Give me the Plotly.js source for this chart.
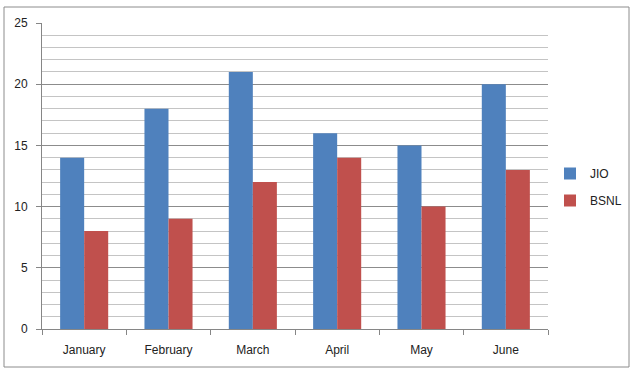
<!DOCTYPE html>
<html><head><meta charset="utf-8">
<script src="https://cdn.plot.ly/plotly-3.0.1.min.js"></script>
<style>html,body{margin:0;padding:0;background:#fff}</style>
</head><body><div id="chart" style="width:644px;height:378px"></div>
<script>
const months = ["January","February","March","April","May","June"];
const jio = [14,18,21,16,15,20];
const bsnl = [8,9,12,14,10,13];
const yTicks = [0,5,10,15,20,25];

const traces = [
  {type:'bar', name:'JIO', legendgroup:'a', x:months, y:jio, marker:{color:'#4F81BD'}},
  {type:'bar', name:'BSNL', legendgroup:'b', x:months, y:bsnl, marker:{color:'#C0504D'}}
];
const layout = {
  width:644, height:378,
  margin:{l:42, r:96, t:23, b:49},
  paper_bgcolor:'#fff', plot_bgcolor:'#fff',
  font:{family:'Liberation Sans, Arial, sans-serif', size:12, color:'#222'},
  barmode:'group', bargap:0.43, bargroupgap:0,
  showlegend:true,
  legend:{xref:'container', yref:'container', x:550/644, y:1-187/378, xanchor:'left', yanchor:'middle',
    font:{size:12}, traceorder:'grouped', tracegroupgap:8, itemwidth:30},
  xaxis:{type:'category', showline:true, linecolor:'#868686', linewidth:1,
    ticks:'outside', tickson:'boundaries', ticklen:5, tickcolor:'#868686',
    ticklabelstandoff:10, showgrid:false, zeroline:false, automargin:false},
  yaxis:{range:[0,25], tickvals:yTicks, ticktext:yTicks.map(String),
    showline:true, linecolor:'#868686', linewidth:1,
    ticks:'outside', ticklen:5, tickcolor:'#868686', ticklabelstandoff:6, automargin:false,
    showgrid:true, gridcolor:'#8c8c8c', gridwidth:1, zeroline:false,
    minor:{dtick:1, showgrid:true, gridcolor:'#c4c4c4', gridwidth:1}},
  shapes:[{type:'rect', xref:'paper', yref:'paper',
    x0:(4-42)/506, x1:(629-42)/506, y0:(329-367)/306, y1:(329-7)/306,
    line:{color:'#8c8c8c', width:1}, fillcolor:'rgba(0,0,0,0)', layer:'below'}]
};
Plotly.newPlot('chart', traces, layout, {displayModeBar:false, staticPlot:true});
</script></body></html>
